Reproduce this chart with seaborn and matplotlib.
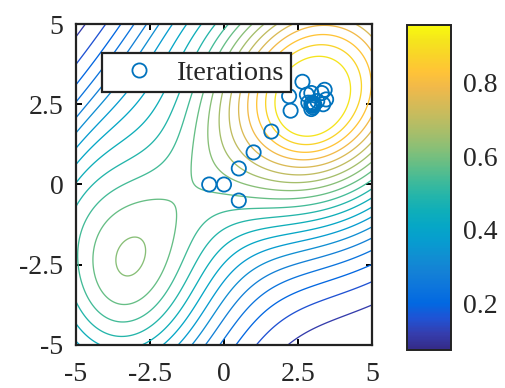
import numpy as np
import matplotlib
matplotlib.use("Agg")
import matplotlib.pyplot as plt
from matplotlib.colors import LinearSegmentedColormap, Normalize
from matplotlib.cm import ScalarMappable
from matplotlib.lines import Line2D
import seaborn as sns

# Objective surface: rotated Gaussian bumps, a narrow straight ridge and a floor
bump_amp = [0.909, 0.540, 0.06]
bump_cx = [3.168, -3.456, 2.75]
bump_cy = [2.962, -2.744, 2.2]
bump_su = [3.421, 2.517, 0.9]
bump_sw = [3.016, 3.086, 0.9]
bump_angle = [0.559, -0.111, 0.0]
ridge_amp = 0.0865
ridge_x0, ridge_y0 = -2.409, 4.328
ridge_angle = 0.949
ridge_width = 1.162
floor_level = 0.0458

# Colour limits and number of contour levels
clim = (0.072, 0.958)
n_levels = 20

# Optimizer iterates
iter_x = [0.0, -0.5, 0.5, 0.5, 1.0, 1.6, 2.25, 2.2, 2.65, 2.8, 2.95, 3.3,
          3.45, 3.4, 3.15, 3.35, 2.85, 2.95, 3.0, 2.95, 3.05, 3.0, 2.98, 3.02]
iter_y = [0.0, 0.0, -0.5, 0.5, 1.0, 1.65, 2.3, 2.75, 3.2, 2.8, 2.85, 2.85,
          2.65, 2.95, 2.6, 2.5, 2.55, 2.5, 2.45, 2.35, 2.5, 2.4, 2.55, 2.48]

axis_ticks = [-5, -2.5, 0, 2.5, 5]
axis_ticklabels = ["-5", "-2.5", "0", "2.5", "5"]
cbar_ticks = [0.2, 0.4, 0.6, 0.8]
cbar_ticklabels = ["0.2", "0.4", "0.6", "0.8"]
legend_label = "Iterations"

# parula colour anchors
parula_rgb = [
    (0.2081, 0.1663, 0.5292), (0.2081, 0.2386, 0.6771), (0.1253, 0.3242, 0.8303),
    (0.0060, 0.4086, 0.8828), (0.0498, 0.4586, 0.8641), (0.0779, 0.5040, 0.8384),
    (0.0641, 0.5570, 0.8240), (0.0265, 0.6137, 0.8135), (0.0228, 0.6535, 0.7768),
    (0.0590, 0.6838, 0.7254), (0.1453, 0.7098, 0.6646), (0.2586, 0.7317, 0.5954),
    (0.3953, 0.7459, 0.5244), (0.5300, 0.7491, 0.4661), (0.6473, 0.7456, 0.4188),
    (0.7525, 0.7384, 0.3768), (0.8507, 0.7299, 0.3360), (0.9450, 0.7261, 0.2886),
    (0.9990, 0.7653, 0.2164), (0.9789, 0.8271, 0.1633), (0.9589, 0.8949, 0.1132),
    (0.9763, 0.9831, 0.0538)]
parula = LinearSegmentedColormap.from_list("parula", parula_rgb, N=256)

sns.set_style("white")
plt.rcParams["font.family"] = ["Liberation Serif", "DejaVu Serif"]

# Evaluate the surface on a grid
gx = np.linspace(-5, 5, 201)
X, Y = np.meshgrid(gx, gx)
Z = np.full_like(X, floor_level)
for a, cx, cy, su, sw, th in zip(bump_amp, bump_cx, bump_cy, bump_su, bump_sw, bump_angle):
    dx, dy = X - cx, Y - cy
    u = np.cos(th) * dx + np.sin(th) * dy
    w = -np.sin(th) * dx + np.cos(th) * dy
    Z += a * np.exp(-0.5 * (u**2 / su**2 + w**2 / sw**2))
w_r = -np.sin(ridge_angle) * (X - ridge_x0) + np.cos(ridge_angle) * (Y - ridge_y0)
Z += ridge_amp * np.exp(-0.5 * w_r**2 / ridge_width**2)

levels = np.linspace(clim[0], clim[1], n_levels + 2)[1:-1]
norm = Normalize(*clim)

fig = plt.figure(figsize=(5.06, 3.88), dpi=100)
ax = fig.add_axes([76/506, 1 - 345/388, 296/506, 321/388])
cax = fig.add_axes([407/506, 1 - 350/388, 44/506, 325/388])

ax.contour(X, Y, Z, levels=levels, cmap=parula, norm=norm, linewidths=0.95)

blue = "#0072BD"
sns.scatterplot(x=iter_x, y=iter_y, ax=ax, marker="o", s=105,
                facecolor="none", edgecolor=blue, linewidth=1.3, legend=False,
                zorder=3)

ax.set_xlim(-5, 5)
ax.set_ylim(-5, 5)
ax.set_xticks(axis_ticks)
ax.set_xticklabels(axis_ticklabels)
ax.set_yticks(axis_ticks)
ax.set_yticklabels(axis_ticklabels)
ax.tick_params(direction="in", length=4, width=1.4, top=True, right=True,
               bottom=True, left=True, color="black", labelsize=20)
ax.tick_params(axis="x", pad=12)
ax.tick_params(axis="y", pad=9)
for sp in ax.spines.values():
    sp.set_linewidth(1.6)
    sp.set_color("#222222")

handle = Line2D([], [], linestyle="none", marker="o", markersize=10.2,
                markerfacecolor="none", markeredgecolor=blue, markeredgewidth=1.3)
leg = ax.legend([handle], [legend_label], loc="upper left",
                bbox_to_anchor=(0.088, 0.91), borderaxespad=0, fontsize=20.5,
                frameon=True, fancybox=False, borderpad=0.24, handlelength=2.15,
                handletextpad=0.22)
leg.get_frame().set_edgecolor("#222222")
leg.get_frame().set_linewidth(1.6)
leg.get_frame().set_facecolor("white")
leg.get_frame().set_alpha(1)

cb = fig.colorbar(ScalarMappable(norm=norm, cmap=parula), cax=cax)
cb.set_ticks(cbar_ticks)
cb.set_ticklabels(cbar_ticklabels)
cb.ax.tick_params(direction="in", length=4, width=1.2, labelsize=20, pad=9)
cb.outline.set_linewidth(1.4)
cb.outline.set_edgecolor("#222222")

fig.savefig("out.png", dpi=100)
